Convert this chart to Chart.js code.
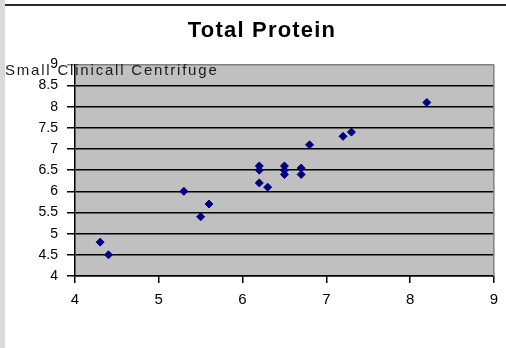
<!DOCTYPE html>
<html>
<head>
<meta charset="utf-8">
<script src="https://cdn.jsdelivr.net/npm/chart.js@4.4.1/dist/chart.umd.min.js"></script>
<style>
  body { margin: 0; background: #fff; }
  #wrap { position: relative; width: 506px; height: 348px; overflow: hidden; }
  #strip { position: absolute; left: 0; top: 0; width: 5px; height: 348px; background: #dadada; }
  #topline { position: absolute; left: 5px; right: 0; top: 4px; height: 2px; background: #2a2a2a; }
  canvas { position: absolute; left: 0; top: 0; }
</style>
</head>
<body>
<div id="wrap">
  <div id="strip"></div>
  <div id="topline"></div>
  <canvas id="chart" width="506" height="348"></canvas>
</div>
<script>
// Total Protein, small clinical centrifuge
const xValues = [4.3, 4.4, 5.3, 5.5, 5.6, 6.2, 6.2, 6.2, 6.3, 6.5, 6.5, 6.5, 6.7, 6.7, 6.8, 7.2, 7.3, 8.2];
const yValues = [4.8, 4.5, 6.0, 5.4, 5.7, 6.6, 6.5, 6.2, 6.1, 6.6, 6.5, 6.4, 6.55, 6.4, 7.1, 7.3, 7.4, 8.1];
const chartTitle = 'Total Protein';
const seriesLabel = 'Small Clinicall Centrifuge';
const xMin = 4, xMax = 9, xStep = 1;
const yMin = 4, yMax = 9, yStep = 0.5;

const points = xValues.map((x, i) => ({ x: x, y: yValues[i] }));

// gray plot area + gray right border
const plotArea = {
    id: 'plotArea',
    beforeDraw(chart) {
        const { ctx, chartArea: a } = chart;
        ctx.save();
        ctx.fillStyle = '#c0c0c0';
        ctx.fillRect(a.left, a.top, a.right - a.left, a.bottom - a.top);
        ctx.restore();
    },
    afterDraw(chart) {
        const { ctx, chartArea: a } = chart;
        ctx.save();
        ctx.strokeStyle = '#808080';
        ctx.lineWidth = 1.5;
        ctx.beginPath();
        ctx.moveTo(a.right, a.top);
        ctx.lineTo(a.right, a.bottom);
        ctx.stroke();
        // series name written over the top left corner
        ctx.font = '15px "Liberation Sans", Arial, sans-serif';
        ctx.letterSpacing = '1.8px';
        ctx.fillStyle = '#1a1a1a';
        ctx.textBaseline = 'alphabetic';
        ctx.fillText(seriesLabel, 5, 75);
        ctx.restore();
    }
};

const chart = new Chart(document.getElementById('chart'), {
    type: 'scatter',
    data: {
        datasets: [{
            label: seriesLabel,
            data: points,
            pointStyle: 'rectRot',
            radius: 4,
            hoverRadius: 4,
            backgroundColor: '#000080',
            borderColor: '#000080',
            borderWidth: 1
        }]
    },
    options: {
        responsive: false,
        animation: false,
        layout: { padding: { left: 0, right: 12, top: 0, bottom: 0 } },
        plugins: {
            legend: { display: false },
            tooltip: { enabled: false },
            title: {
                display: true,
                text: chartTitle,
                color: '#000',
                font: { family: '"Liberation Sans", Arial, sans-serif', size: 22, weight: 'bold', lineHeight: 1.2 },
                padding: { top: 18, bottom: 20 }
            }
        },
        scales: {
            x: {
                type: 'linear',
                min: xMin,
                max: xMax,
                afterFit(scale) { scale.height = 72; },
                ticks: {
                    stepSize: xStep,
                    color: '#000',
                    padding: 8,
                    font: { family: '"Liberation Sans", Arial, sans-serif', size: 15 }
                },
                grid: { drawOnChartArea: false, drawTicks: true, tickLength: 7, color: '#000', lineWidth: 1.5 },
                border: { color: '#000', width: 1.5 }
            },
            y: {
                type: 'linear',
                min: yMin,
                max: yMax,
                afterFit(scale) { scale.width = 75; },
                ticks: {
                    stepSize: yStep,
                    color: '#000',
                    padding: 9,
                    font: { family: '"Liberation Sans", Arial, sans-serif', size: 14 },
                    callback: (v) => String(v)
                },
                grid: {
                    tickLength: 8,
                    lineWidth: 1.5,
                    color: (c) => (c.tick && c.tick.value === yMax ? '#808080' : '#000')
                },
                border: { color: '#000', width: 1.5 }
            }
        }
    },
    plugins: [plotArea]
});

// loosen the title letter spacing and move it over the middle of the page
const tb = chart.titleBlock;
if (tb) {
    const origDraw = tb.draw.bind(tb);
    tb.draw = function () {
        const c = this.ctx;
        c.save();
        c.translate(15, 0);
        c.letterSpacing = '1.2px';
        origDraw();
        c.restore();
    };
    chart.draw();
}
</script>
</body>
</html>
